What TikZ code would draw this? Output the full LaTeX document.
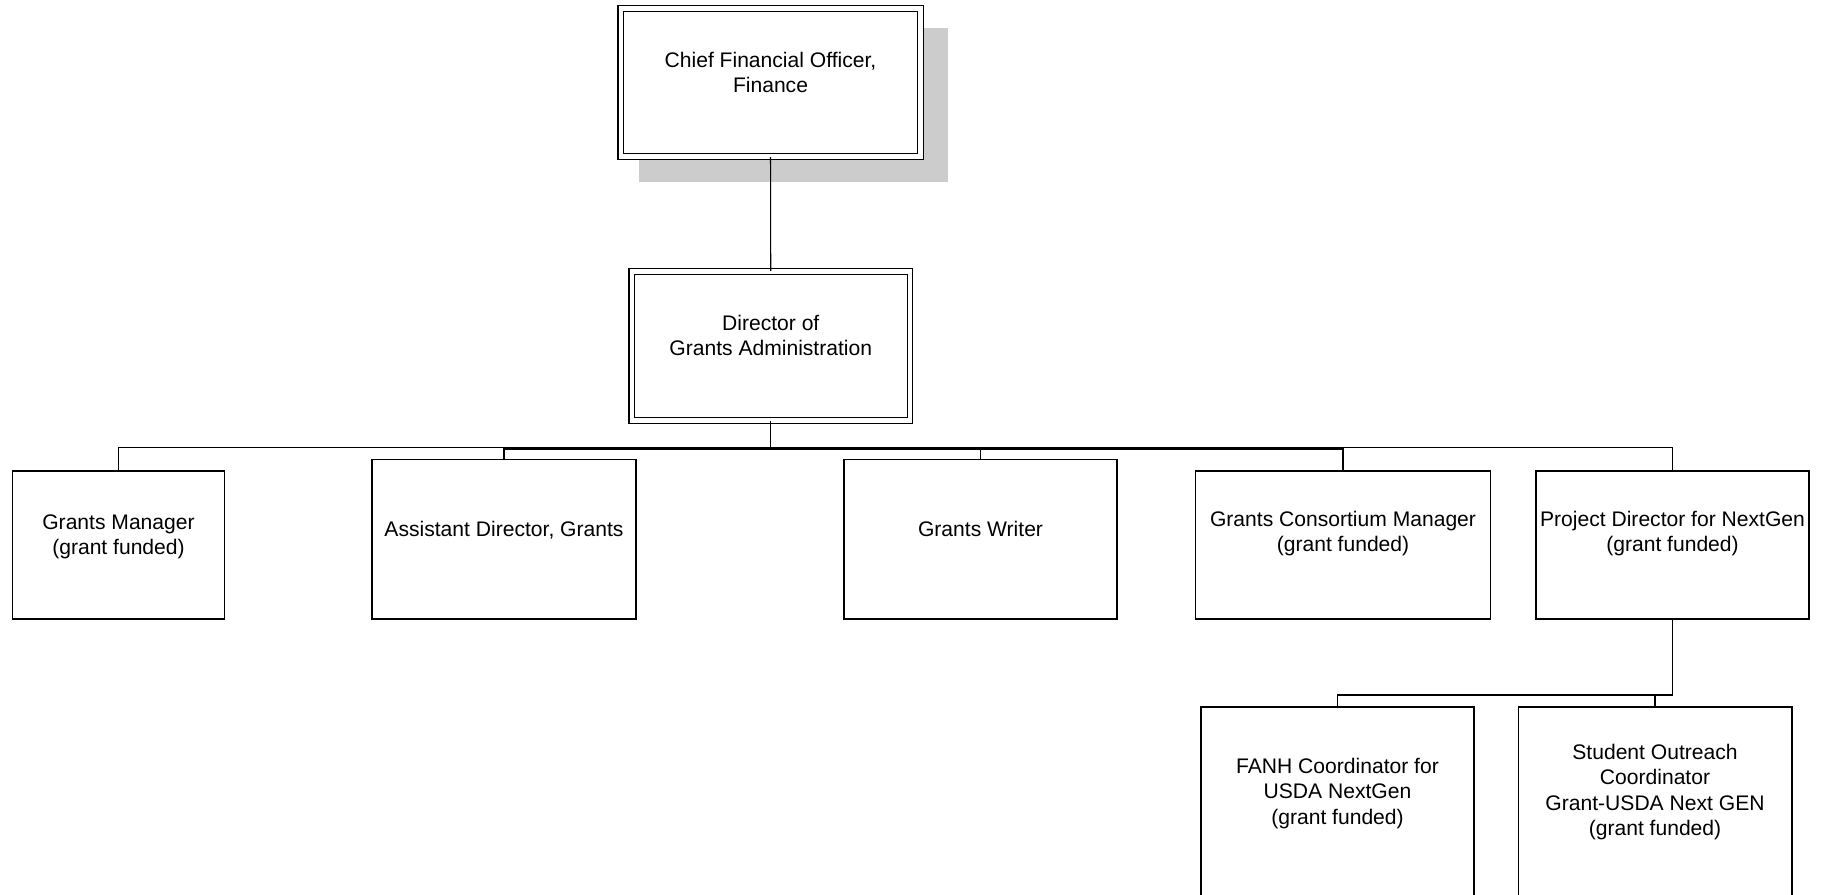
\documentclass[tikz,border=0pt]{standalone}
\usepackage{fontspec}
\setmainfont{Liberation Sans}
\usepackage{tikz}
\definecolor{ombre}{RGB}{204,204,204}
\tikzset{
  poste/.style={draw, line width=0.9pt, fill=white, rectangle, inner sep=0pt},
  chef/.style={poste, double, line width=0.8pt, double distance=2.3pt},
  titre/.style={anchor=north, align=center, inner sep=0pt, font=\fontsize{12}{14.4}\selectfont},
  lien/.style={line width=0.6pt}
}
\begin{document}
\begin{tikzpicture}[x=0.02cm,y=-0.02cm]
\useasboundingbox (0,0) rectangle (1828,895);
\fill [ombre] (639,28) rectangle (948,182);
\node [chef, minimum width=6cm, minimum height=2.96cm,
  label={[titre,yshift=-25pt]north:{Chief Financial Officer,\\Finance}}] (cfo) at (770.5,82.5) {};
\node [chef, minimum width=5.57cm, minimum height=2.98cm,
  label={[titre,yshift=-25pt]north:{Director of\\Grants Administration}}] (dir) at (770.75,346) {};
\node [poste, minimum width=4.24cm, minimum height=2.97cm,
  label={[titre,yshift=-25.3pt]north:{Grants Manager\\(grant funded)}}] (gm) at (118.5,545) {};
\node [poste, minimum width=5.28cm, minimum height=3.2cm,
  label={[titre,yshift=-35.5pt]north:{Assistant Director, Grants}}] (ad) at (504,539.3) {};
\node [poste, minimum width=5.46cm, minimum height=3.2cm,
  label={[titre,yshift=-35.5pt]north:{Grants Writer}}] (gw) at (980.5,539.3) {};
\node [poste, minimum width=5.9cm, minimum height=2.97cm,
  label={[titre,yshift=-23pt]north:{Grants Consortium Manager\\(grant funded)}}] (gcm) at (1343,545) {};
\node [poste, minimum width=5.46cm, minimum height=2.97cm,
  label={[titre,yshift=-23pt]north:{Project Director for NextGen\\(grant funded)}}] (pd) at (1672.5,545) {};
\node [poste, minimum width=5.47cm, minimum height=3.96cm,
  label={[titre,yshift=-29.5pt]north:{FANH Coordinator for\\USDA NextGen\\(grant funded)}}] (fanh) at (1337.5,806) {};
\node [poste, minimum width=5.47cm, minimum height=3.96cm,
  label={[titre,yshift=-21.5pt]north:{Student Outreach\\Coordinator\\Grant-USDA Next GEN\\(grant funded)}}] (so) at (1655,806) {};
\coordinate (barre) at (770.75,447.3);
\coordinate (barre2) at (770.75,449);
\coordinate (sousbarre) at (1672.5,695);
\draw [lien] (cfo.south) -- (dir.north);
\draw [lien] (dir.south) -- (barre) -| (gm.north);
\draw [lien] (barre) -| (pd.north);
\draw [lien] (dir.south) -- (barre2) -| (ad.north);
\draw [lien] (barre2) -| (gw.north);
\draw [lien] (barre2) -| (gcm.north);
\draw [lien, line width=0.9pt] (pd.south) -- (sousbarre) -| (fanh.north);
\draw [lien, line width=0.9pt] (sousbarre) -| (so.north);
\end{tikzpicture}
\end{document}
